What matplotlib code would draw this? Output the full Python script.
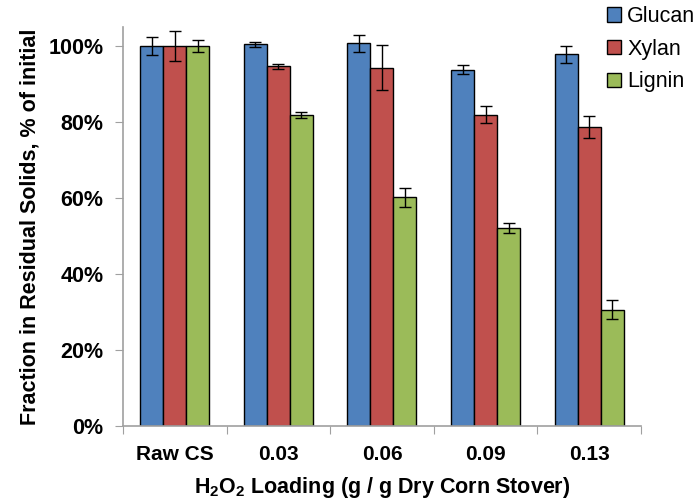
import matplotlib.pyplot as plt
import numpy as np
from matplotlib.patches import Patch
from matplotlib.ticker import FuncFormatter

plt.rcParams['font.family'] = ['Liberation Sans', 'DejaVu Sans']
plt.rcParams['mathtext.fontset'] = 'custom'
plt.rcParams['mathtext.bf'] = 'Liberation Sans:bold'
plt.rcParams['mathtext.rm'] = 'Liberation Sans'

categories = ['Raw CS', '0.03', '0.06', '0.09', '0.13']
glucan = [100.0, 100.4, 100.7, 93.7, 97.8]
glucan_err = [2.3, 0.65, 2.2, 1.2, 2.2]
xylan = [100.0, 94.6, 94.3, 81.9, 78.6]
xylan_err = [4.0, 0.75, 6.0, 2.3, 2.9]
lignin = [100.0, 81.8, 60.1, 52.0, 30.6]
lignin_err = [1.5, 0.8, 2.5, 1.3, 2.4]

series = [('Glucan', glucan, glucan_err, '#4F81BD'),
          ('Xylan', xylan, xylan_err, '#C0504D'),
          ('Lignin', lignin, lignin_err, '#9BBB59')]

fig = plt.figure(figsize=(6.94, 4.99), dpi=100)
ax = fig.add_axes([0.1772, 0.1469, 0.7464, 0.799])

x = np.arange(len(categories))
w = 0.222
for i, (name, vals, errs, col) in enumerate(series):
    ax.bar(x + (i - 1) * w, np.array(vals) / 100, w, color=col,
           edgecolor='black', linewidth=1.0, zorder=2)
    ax.errorbar(x + (i - 1) * w, np.array(vals) / 100, yerr=np.array(errs) / 100,
                fmt='none', ecolor='black', elinewidth=1.0, capsize=4.5,
                capthick=1.0, zorder=3)

ax.set_xlim(-0.5, len(categories) - 0.5)
ax.set_ylim(0, 1.05)
ax.set_yticks([0, 0.2, 0.4, 0.6, 0.8, 1.0])
ax.yaxis.set_major_formatter(FuncFormatter(lambda v, p: '%d%%' % round(v * 100)))
ax.set_xticks(np.arange(len(categories) + 1) - 0.5, minor=False)
ax.set_xticklabels([])
ax.set_xticks(x, minor=True)
ax.set_xticklabels(categories, minor=True, fontsize=15, fontweight='bold')
ax.tick_params(axis='x', which='minor', length=0, pad=14)
ax.tick_params(axis='x', which='major', length=6, color='#A0A0A0', direction='out')
ax.tick_params(axis='y', length=6, color='#A0A0A0', direction='out',
               labelsize=15.5, pad=8)
for lab in ax.get_yticklabels():
    lab.set_fontweight('bold')

for s in ['top', 'right']:
    ax.spines[s].set_visible(False)
for s in ['left', 'bottom']:
    ax.spines[s].set_color('#A0A0A0')
    ax.spines[s].set_linewidth(1.2)

ax.set_ylabel('Fraction in Residual Solids, % of initial', fontsize=15.5,
              fontweight='bold', labelpad=6)
ax.set_xlabel('H$_\\mathbf{2}$O$_\\mathbf{2}$ Loading (g / g Dry Corn Stover)',
              fontsize=15.5, fontweight='bold', labelpad=8)

handles = [Patch(facecolor=c, edgecolor='black', linewidth=1.0) for _, _, _, c in series]
fig.legend(handles, [s[0] for s in series], loc='upper left',
           bbox_to_anchor=(0.862, 1.005), frameon=False, fontsize=15.5,
           handlelength=0.65, handleheight=0.65, handletextpad=0.3,
           labelspacing=0.54, borderaxespad=0)

fig.savefig('out.png', dpi=100)
